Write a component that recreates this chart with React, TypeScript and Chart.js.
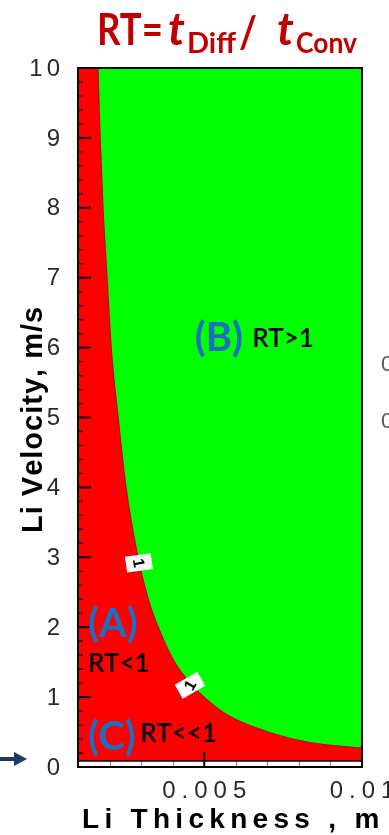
import React, { useEffect, useRef } from "react";
import { Chart, registerables } from "chart.js";

Chart.register(...registerables);

// ---- data ----
// RT = 1 contour: Li thickness (m) vs Li velocity (m/s)
const contourThickness = [0.00163, 0.0017, 0.00179, 0.00192, 0.00205, 0.00227, 0.00252, 0.0029, 0.00323, 0.00354, 0.00407, 0.00455, 0.00509, 0.00582, 0.00709, 0.00835, 0.01];
const contourVelocity = [10, 9, 8, 7, 6, 5, 4, 3, 2.39, 2, 1.49, 1.2, 0.96, 0.72, 0.49, 0.35, 0.27];

const X_MIN = 0.001;
const X_MAX = 0.01;
const Y_MIN = 0;
const Y_MAX = 10;
const DATA_FLOOR = 0.086; // bottom of the computed field

const yTickValues = [0, 1, 2, 3, 4, 5, 6, 7, 8, 9, 10];
const yTickLabels = ["0", "1", "2", "3", "4", "5", "6", "7", "8", "9", "10"];
const xTickValues = [0.005, 0.01];
const xTickLabels = ["0.005", "0.01"];

const contourLabelX = [0.00293, 0.00455];
const contourLabelY = [2.92, 1.17];
const contourLabelText = ["1", "1"];

const RED = "#ff0000";
const GREEN = "#00ff00";
const BLUE = "#1d6fc2";
const TITLE_RED = "#c00000";

function spacedWidth(ctx: CanvasRenderingContext2D, t: string, sp: number) {
  let w = 0;
  for (let i = 0; i < t.length; i++) w += ctx.measureText(t[i]).width + (i < t.length - 1 ? sp : 0);
  return w;
}
function drawSpaced(ctx: CanvasRenderingContext2D, t: string, x: number, y: number, sp: number) {
  let cx = x;
  for (let i = 0; i < t.length; i++) {
    ctx.fillText(t[i], cx, y);
    cx += ctx.measureText(t[i]).width + sp;
  }
}

const decorPlugin = {
  id: "decor",
  afterDraw(chart: any) {
    const ctx: CanvasRenderingContext2D = chart.ctx;
    const xs = chart.scales.x;
    const ys = chart.scales.y;
    const a = chart.chartArea;
    const px = (v: number) => xs.getPixelForValue(v);
    const py = (v: number) => ys.getPixelForValue(v);
    ctx.save();
    ctx.textAlign = "left";

    // strip at the bottom: minor ticks
    const floorY = py(DATA_FLOOR);
    ctx.strokeStyle = "#888";
    ctx.lineWidth = 1;
    for (let i = 2; i <= 9; i++) {
      const x = Math.round(px(i * 0.001)) + 0.5;
      ctx.beginPath();
      ctx.moveTo(x, a.bottom);
      ctx.lineTo(x, floorY);
      ctx.stroke();
    }
    ctx.strokeStyle = "#000";
    ctx.lineWidth = 1.5;
    ctx.beginPath();
    ctx.moveTo(a.left, floorY);
    ctx.lineTo(a.right, floorY);
    ctx.stroke();
    ctx.lineWidth = 2;
    ctx.beginPath();
    ctx.moveTo(px(0.005), a.bottom);
    ctx.lineTo(px(0.005), a.bottom - 15);
    ctx.stroke();

    // y ticks (inside)
    for (let i = 0; i <= 50; i++) {
      const y = py(i * 0.2);
      const major = i % 5 === 0;
      ctx.lineWidth = major ? 2 : 1.3;
      ctx.beginPath();
      ctx.moveTo(a.left, y);
      ctx.lineTo(a.left + (major ? 13 : 5), y);
      ctx.stroke();
    }

    // frame
    ctx.lineWidth = 2;
    ctx.strokeRect(a.left, a.top, a.right - a.left, a.bottom - a.top);

    // y tick labels
    ctx.fillStyle = "#2a2a2a";
    ctx.font = "24px 'Liberation Sans'";
    ctx.textBaseline = "middle";
    yTickValues.forEach((v, i) => {
      const t = yTickLabels[i];
      const w = spacedWidth(ctx, t, 4);
      drawSpaced(ctx, t, 60 - w, py(v) + 1, 4);
    });
    // x tick labels
    ctx.textBaseline = "alphabetic";
    xTickValues.forEach((v, i) => {
      const t = xTickLabels[i];
      const w = spacedWidth(ctx, t, 6);
      drawSpaced(ctx, t, px(v) - w / 2, 798, 6);
    });

    // axis titles
    ctx.fillStyle = "#000";
    ctx.font = "bold 28px 'Liberation Sans'";
    drawSpaced(ctx, "Li Thickness , m", 82, 828, 5.3);

    ctx.save();
    ctx.translate(42, 533);
    ctx.rotate(-Math.PI / 2);
    ctx.font = "bold 29px 'Liberation Sans'";
    drawSpaced(ctx, "Li Velocity, m/s", 0, 0, 1);
    ctx.restore();

    // title
    ctx.fillStyle = TITLE_RED;
    ctx.font = "bold 43px Lato";
    ctx.fillText("RT=", 97, 45, 66);
    ctx.font = "italic bold 46px Lato";
    ctx.fillText("t", 168, 45, 24);
    ctx.font = "bold 29px Lato";
    ctx.fillText("Diff", 187, 53, 50);
    ctx.font = "bold 44px Lato";
    ctx.fillText("/", 239, 48, 18);
    ctx.font = "italic bold 46px Lato";
    ctx.fillText("t", 277, 45, 24);
    ctx.font = "bold 29px Lato";
    ctx.fillText("Conv", 296, 53, 61);

    // region labels
    ctx.fillStyle = BLUE;
    ctx.font = "bold 40px Lato";
    ctx.fillText("(B)", px(0.0047), py(5.95));
    ctx.fillText("(A)", px(0.00132), py(1.86));
    ctx.fillText("(C)", px(0.00132), py(0.25));
    ctx.fillStyle = "#000";
    ctx.font = "600 26px Lato";
    ctx.fillText("RT>1", px(0.00652), py(6.01));
    ctx.fillText("RT<1", px(0.00132), py(1.36));
    ctx.fillText("RT<<1", px(0.00297), py(0.36));

    // contour labels
    const boxAngles = [-8, -30];
    const textAngles = [80, -60];
    contourLabelX.forEach((cx, i) => {
      ctx.save();
      ctx.translate(px(cx), py(contourLabelY[i]));
      ctx.rotate((boxAngles[i] * Math.PI) / 180);
      ctx.fillStyle = "#fff";
      ctx.fillRect(-13, -8, 26, 16);
      ctx.rotate(((textAngles[i] - boxAngles[i]) * Math.PI) / 180);
      ctx.fillStyle = "#000";
      ctx.font = "bold 16px 'Liberation Sans'";
      ctx.textAlign = "center";
      ctx.textBaseline = "middle";
      ctx.fillText(contourLabelText[i], 0, 1);
      ctx.restore();
    });

    // cut-off text at the right edge
    ctx.fillStyle = "#555";
    ctx.font = "22px 'Liberation Sans'";
    ctx.textBaseline = "middle";
    ctx.fillText("0", 381, 365);
    ctx.fillText("0", 381, 422);

    // arrow on the left
    ctx.fillStyle = "#1f3864";
    ctx.fillRect(0, 757, 17, 4);
    ctx.beginPath();
    ctx.moveTo(14, 752);
    ctx.lineTo(27, 759);
    ctx.lineTo(14, 766);
    ctx.closePath();
    ctx.fill();

    ctx.restore();
  },
};

export default function App() {
  const ref = useRef<HTMLCanvasElement | null>(null);
  useEffect(() => {
    if (!ref.current) return;
    const redPts = [{ x: X_MIN, y: Y_MAX }].concat(
      contourThickness.map((x, i) => ({ x, y: contourVelocity[i] }))
    );
    const edgePts = contourThickness.map((x, i) => ({ x, y: contourVelocity[i] }));
    const chart = new Chart(ref.current, {
      type: "line",
      data: {
        datasets: [
          {
            data: edgePts,
            borderColor: "#cc0000",
            borderWidth: 1.3,
            pointRadius: 0,
            fill: false,
            cubicInterpolationMode: "monotone",
            order: 1,
          },
          {
            data: redPts,
            borderWidth: 0,
            borderColor: "rgba(0,0,0,0)",
            backgroundColor: RED,
            pointRadius: 0,
            fill: { value: DATA_FLOOR },
            cubicInterpolationMode: "monotone",
            order: 2,
          },
          {
            data: [
              { x: X_MIN, y: Y_MAX },
              { x: X_MAX, y: Y_MAX },
            ],
            borderWidth: 0,
            borderColor: "rgba(0,0,0,0)",
            backgroundColor: GREEN,
            pointRadius: 0,
            fill: { value: DATA_FLOOR },
            order: 3,
          },
        ] as any,
      },
      options: {
        animation: false,
        responsive: false,
        devicePixelRatio: 1,
        layout: { padding: { left: 78, right: 27, top: 68, bottom: 68 } },
        plugins: { legend: { display: false }, tooltip: { enabled: false }, title: { display: false } },
        scales: {
          x: { type: "linear", min: X_MIN, max: X_MAX, display: false },
          y: { type: "linear", min: Y_MIN, max: Y_MAX, display: false },
        },
        events: [],
      } as any,
      plugins: [decorPlugin],
    });
    return () => chart.destroy();
  }, []);
  return (
    <div style={{ position: "absolute", left: 0, top: 0, width: 389, height: 835, background: "#fff" }}>
      <canvas ref={ref} width={389} height={835} />
    </div>
  );
}
